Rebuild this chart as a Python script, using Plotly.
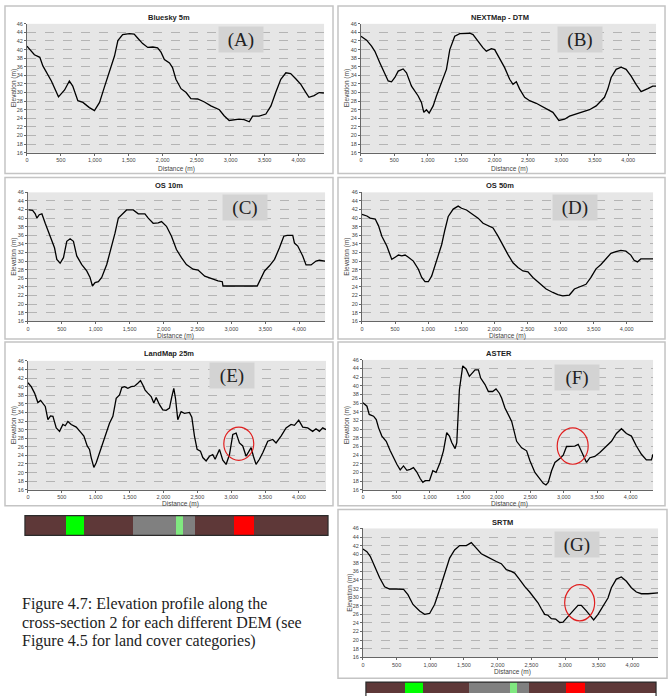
import plotly.graph_objects as go

W, H = 672, 696

# ---------------- data ----------------
names = ["Bluesky 5m", "NEXTMap - DTM", "OS 10m", "OS 50m", "LandMap 25m", "ASTER", "SRTM"]
letters = ["(A)", "(B)", "(C)", "(D)", "(E)", "(F)", "(G)"]

a_dist = [0,110,190,235,360,465,555,625,675,750,825,920,995,1070,1140,1215,1290,1340,1410,1510,1580,1630,1705,1780,1855,1925,1975,2025,2100,2145,2195,2270,2345,2415,2515,2615,2710,2835,2905,2980,3055,3125,3200,3275,3325,3420,3520,3595,3665,3740,3815,3885,3960,4035,4110,4155,4230,4305,4375]
a_elev = [40.8,38.8,38.2,36.2,32.7,29.0,30.6,32.7,31.5,28.1,27.7,26.5,25.8,27.7,31.2,35.0,38.5,42.1,43.5,43.7,43.6,42.7,41.4,40.5,40.6,40.4,39.4,37.7,36.9,35.8,33.1,30.9,30.0,28.6,28.5,27.8,26.9,26.0,24.6,23.5,23.7,23.8,23.7,23.2,24.5,24.5,25.0,26.9,30.0,33.1,34.6,34.4,33.2,31.9,30.0,28.9,29.3,30.0,29.9]

b_dist = [0,85,159,209,284,359,408,458,508,558,632,682,757,857,906,941,981,1021,1081,1130,1205,1280,1330,1404,1479,1554,1629,1678,1753,1828,1877,1952,2002,2077,2151,2226,2276,2326,2376,2450,2525,2624,2749,2873,2963,3048,3122,3222,3322,3421,3521,3596,3645,3695,3745,3820,3894,3969,4044,4118,4193,4293,4367,4417]
b_elev = [43.1,42.2,40.8,39.6,36.9,34.2,32.7,32.5,33.5,35.0,35.5,34.6,31.5,29.2,27.7,25.4,26.0,25.2,26.9,29.2,32.3,35.4,40.0,43.1,43.7,43.7,43.8,43.5,41.9,40.4,39.6,40.2,40.0,37.7,35.8,33.1,31.9,32.5,30.8,28.9,28.1,27.5,26.5,25.4,23.5,23.8,24.5,25.0,25.4,26.0,26.9,28.1,28.9,30.8,33.5,35.4,35.9,35.4,33.8,31.9,30.2,30.9,31.5,31.5]

c_dist = [10,69,108,132,167,206,255,328,392,426,475,524,573,622,671,720,794,867,916,951,990,1039,1088,1162,1235,1284,1333,1392,1455,1553,1627,1725,1774,1847,1921,1970,2043,2117,2190,2264,2337,2435,2509,2607,2705,2803,2866,2876,3381,3415,3489,3562,3636,3709,3773,3822,3905,3930,3979,4052,4101,4175,4248,4297,4346,4381]
c_elev = [41.9,41.8,41.0,40.0,40.8,41.0,38.8,35.8,33.1,30.4,29.5,30.8,34.6,35.2,34.6,31.2,29.2,27.7,26.2,24.2,25.0,25.2,26.2,29.2,33.5,36.5,40.0,41.0,41.9,41.9,41.0,41.0,40.0,38.8,38.9,39.2,38.1,35.8,32.7,30.8,29.2,28.1,27.9,26.5,25.9,25.4,25.2,24.2,24.2,25.2,27.7,28.9,30.4,33.1,35.8,36.0,36.0,34.2,33.5,31.2,29.1,29.1,30.0,30.2,30.0,30.0]

d_dist = [0,75,125,201,251,301,376,426,451,502,552,602,652,702,777,853,903,953,1003,1053,1128,1204,1254,1304,1379,1454,1505,1580,1680,1755,1830,1906,1981,2056,2131,2207,2282,2357,2432,2508,2583,2683,2783,2884,2959,3034,3134,3210,3310,3385,3460,3536,3611,3686,3761,3836,3912,3987,4062,4112,4162,4213,4313,4398]
d_elev = [40.9,40.5,40.0,39.8,38.2,35.8,33.5,31.2,30.4,30.9,31.4,31.2,31.4,30.9,30.0,28.1,26.2,25.2,25.2,26.5,30.0,33.8,37.3,40.4,42.1,42.8,42.3,41.9,40.8,40.0,38.8,38.3,37.7,35.8,33.5,31.5,29.6,28.5,27.7,27.5,26.2,24.9,23.5,22.7,22.2,21.9,22.1,23.5,24.1,24.6,26.2,28.2,29.2,30.5,31.8,32.2,32.5,32.3,31.4,30.2,29.8,30.5,30.5,30.5]

e_dist = [0,49,98,147,187,221,256,295,334,369,418,467,516,551,590,639,713,777,826,875,909,934,973,1008,1057,1106,1155,1204,1254,1303,1352,1386,1426,1475,1524,1573,1622,1662,1696,1730,1770,1819,1858,1893,1942,1991,2040,2089,2124,2153,2178,2212,2261,2311,2384,2419,2458,2497,2546,2581,2630,2679,2728,2763,2827,2876,2925,2975,3024,3073,3122,3171,3220,3254,3294,3328,3367,3417,3466,3540,3613,3662,3736,3810,3884,3933,3997,4056,4129,4203,4252,4302,4351,4400]
e_elev = [40.9,40.0,38.5,36.3,36.8,36.0,35.4,32.3,33.2,33.1,30.4,29.6,31.2,30.9,31.9,31.2,30.6,29.4,28.5,26.2,25.4,23.5,21.2,22.3,24.6,26.9,28.9,31.5,33.1,37.3,38.1,39.8,40.0,39.6,40.0,40.1,40.8,41.4,40.4,39.2,38.5,37.7,36.2,37.5,35.8,34.6,34.5,35.0,37.7,39.6,37.3,32.3,34.2,33.8,34.0,32.9,28.5,25.4,25.0,23.5,22.7,23.8,24.2,23.1,25.4,22.9,21.9,24.2,28.9,29.2,26.9,26.2,23.8,24.6,25.8,23.8,21.9,23.1,24.6,27.3,27.7,26.9,28.5,30.4,31.2,31.0,32.2,30.6,30.4,29.6,30.2,29.6,30.4,30.0]

f_dist = [0,60,94,159,199,234,283,348,408,457,507,557,606,656,706,755,805,855,895,929,994,1044,1093,1153,1203,1252,1292,1327,1377,1402,1441,1491,1541,1590,1625,1675,1725,1759,1824,1874,1938,1988,2038,2072,2122,2172,2222,2296,2371,2445,2495,2569,2644,2694,2734,2768,2818,2868,2942,2992,3042,3166,3216,3250,3290,3340,3390,3464,3539,3638,3713,3787,3862,3936,4011,4085,4160,4234,4309,4334]
f_elev = [36.1,35.3,33.4,33.0,32.2,30.3,28.4,27.2,25.0,23.4,21.9,20.6,21.5,20.5,20.7,21.1,20.1,18.6,17.7,18.1,18.1,20.4,20.0,22.3,25.0,29.2,28.4,26.9,25.5,26.9,39.1,44.6,43.9,42.2,42.9,43.7,43.7,41.8,40.3,38.7,38.7,39.3,38.3,37.2,34.9,33.4,31.8,27.2,25.7,25.0,22.7,20.0,18.4,17.5,17.1,17.7,20.4,22.3,23.2,24.0,26.0,26.1,26.5,25.3,23.8,22.3,23.4,23.7,24.6,26.1,27.2,29.0,30.1,29.0,28.4,26.1,24.2,22.9,22.9,24.2]

g_dist = [0,59,109,173,248,322,396,495,604,668,743,842,916,990,1064,1139,1213,1287,1361,1436,1535,1609,1683,1757,1832,1906,1980,2054,2129,2203,2252,2327,2401,2475,2549,2599,2648,2698,2747,2797,2861,2921,2970,3044,3119,3193,3242,3317,3376,3425,3490,3564,3638,3688,3762,3836,3911,3985,4059,4133,4232,4381]
g_elev = [41.2,40.6,39.5,37.2,34.5,32.4,31.9,31.9,31.8,30.6,28.3,26.8,26.0,26.2,28.3,31.8,35.2,39.1,41.0,42.0,42.0,42.7,41.4,40.1,39.5,38.8,38.3,37.8,36.4,36.0,35.6,34.1,32.5,31.2,29.8,28.7,27.3,26.0,25.8,25.0,24.9,24.1,24.2,25.6,26.8,28.1,28.1,26.8,25.6,24.7,26.0,27.9,29.8,32.2,34.2,34.7,33.7,32.2,31.2,30.8,30.8,31.0]

dists = [a_dist, b_dist, c_dist, d_dist, e_dist, f_dist, g_dist]
elevs = [a_elev, b_elev, c_elev, d_elev, e_elev, f_elev, g_elev]
x_max = [4377, 4417, 4381, 4398, 4400, 4334, 4381]

x_ticks = [0, 500, 1000, 1500, 2000, 2500, 3000, 3500, 4000]
y_ticks = list(range(16, 47, 2))

# land cover along the section (distance from, to, class)
lc_from = [0, 590, 862, 1566, 2191, 2292, 2468, 3027, 3318]
lc_to = [590, 862, 1566, 2191, 2292, 2468, 3027, 3318, 4400]
lc_class = ["brown", "green", "brown", "grey", "lightgreen", "grey", "brown", "red", "brown"]

# highlighted areas (panel index, x0, x1, y0, y1)
circle_panel = [4, 5, 6]
circle_x0 = [2891, 2902, 2995]
circle_x1 = [3333, 3365, 3440]
circle_y0 = [22.85, 21.9, 24.5]
circle_y1 = [30.6, 30.3, 32.9]

# ---------------- layout helpers ----------------
lc_colors = {"brown": "#5e3838", "green": "#00ff00", "grey": "#808080",
             "lightgreen": "#80e880", "red": "#ff0000"}

def dx(x0, x1):
    return [x0 / W, x1 / W]

def dy(y0, y1):
    return [1 - y1 / H, 1 - y0 / H]

def px(x):
    return x / W

def py(y):
    return 1 - y / H

plot_boxes = [(25, 323, 21, 151), (360, 656, 21, 151),
              (26, 324, 191, 321), (361, 653, 191, 321),
              (26, 325, 361, 491), (362, 653, 360, 491),
              (362, 658, 530, 660)]
panel_boxes = [(3, 332, 3, 172), (337, 665, 3, 172),
               (3, 332, 176, 339), (337, 665, 176, 339),
               (3, 332, 342, 507), (337, 665, 342, 507),
               (337, 667, 511, 681)]
title_pos = [(167, 15), (499, 15), (167, 184), (499, 184), (167, 354), (498, 354), (502, 524)]
xtitle_pos = [(175, 167), (509, 167), (174, 336), (507, 336), (179, 505), (509, 505), (512, 675)]
ytitle_pos = [(12, 86), (346, 86), (12, 256), (346, 256), (12, 426), (346, 426), (349, 595)]
label_pos = [(240, 37), (580, 37), (244, 206), (575, 206), (231, 376), (577, 378), (577, 546)]

fig = go.Figure()
layout = dict(width=W, height=H, margin=dict(l=0, r=0, t=0, b=0),
              paper_bgcolor="white", plot_bgcolor="#e6e6e6", showlegend=False,
              bargap=0, barmode="overlay")
shapes = []
annotations = []

for i in range(7):
    n = "" if i == 0 else str(i + 1)
    x0, x1, y0, y1 = plot_boxes[i]
    fig.add_trace(go.Scatter(x=dists[i], y=elevs[i], mode="lines",
                             line=dict(color="black", width=1.3),
                             xaxis="x" + n, yaxis="y" + n, name=names[i]))
    layout["xaxis" + n] = dict(domain=dx(x0, x1), anchor="y" + n, range=[0, x_max[i]],
                               tickvals=x_ticks, ticktext=[f"{v:,}" for v in x_ticks],
                               tickfont=dict(size=5.5, color="#444", family="Liberation Sans"),
                               showgrid=False, zeroline=False, showline=True,
                               linecolor="#666", linewidth=1, ticks="outside",
                               ticklen=2, tickcolor="#666")
    layout["yaxis" + n] = dict(domain=dy(y0, y1), anchor="x" + n, range=[16, 46],
                               tickvals=y_ticks,
                               tickfont=dict(size=5.5, color="#444", family="Liberation Sans"),
                               showgrid=True, gridcolor="#b4b4b4", griddash="dash",
                               gridwidth=1, zeroline=False, showline=True,
                               linecolor="#666", linewidth=1, ticks="outside",
                               ticklen=2, tickcolor="#666")
    bx0, bx1, by0, by1 = panel_boxes[i]
    shapes.append(dict(type="rect", xref="paper", yref="paper",
                       x0=px(bx0), x1=px(bx1), y0=py(by1), y1=py(by0),
                       line=dict(color="#c4c4c4", width=1.5), layer="below"))
    tx, ty = title_pos[i]
    annotations.append(dict(text="<b>" + names[i] + "</b>", x=px(tx), y=py(ty),
                            xref="paper", yref="paper", showarrow=False,
                            xanchor="center", yanchor="middle",
                            font=dict(size=7.5, color="#222", family="Liberation Sans")))
    tx, ty = xtitle_pos[i]
    annotations.append(dict(text="Distance (m)", x=px(tx), y=py(ty),
                            xref="paper", yref="paper", showarrow=False,
                            xanchor="center", yanchor="middle",
                            font=dict(size=6.5, color="#444", family="Liberation Sans")))
    tx, ty = ytitle_pos[i]
    annotations.append(dict(text="Elevation (m)", x=px(tx), y=py(ty), textangle=-90,
                            xref="paper", yref="paper", showarrow=False,
                            xanchor="center", yanchor="middle",
                            font=dict(size=6.5, color="#444", family="Liberation Sans")))
    tx, ty = label_pos[i]
    annotations.append(dict(text=letters[i], x=px(tx), y=py(ty),
                            xref="paper", yref="paper", showarrow=False,
                            xanchor="center", yanchor="middle",
                            width=44, height=25, bgcolor="#d3d3d3", borderpad=0,
                            font=dict(size=19, color="#222", family="Liberation Serif")))

for k in range(len(circle_panel)):
    n = str(circle_panel[k] + 1)
    shapes.append(dict(type="circle", xref="x" + n, yref="y" + n,
                       x0=circle_x0[k], x1=circle_x1[k], y0=circle_y0[k], y1=circle_y1[k],
                       line=dict(color="#e02020", width=1.2)))

# land cover bars
lc_bars = [(8, (23, 327, 517, 537)), (9, (365, 656, 685, 696))]
for idx, (x0, x1, y0, y1) in lc_bars:
    n = str(idx)
    fig.add_trace(go.Bar(y=["lc"] * len(lc_from),
                         x=[b - a for a, b in zip(lc_from, lc_to)],
                         base=lc_from, orientation="h",
                         marker=dict(color=[lc_colors[c] for c in lc_class], line=dict(width=0)),
                         xaxis="x" + n, yaxis="y" + n, hoverinfo="skip"))
    layout["xaxis" + n] = dict(domain=dx(x0, x1), anchor="y" + n, range=[0, 4400],
                               visible=False)
    layout["yaxis" + n] = dict(domain=dy(y0, y1), anchor="x" + n, range=[-0.5, 0.5],
                               visible=False)
    shapes.append(dict(type="rect", xref="paper", yref="paper",
                       x0=px(x0), x1=px(x1), y0=py(y1 if idx == 8 else y1 + 6), y1=py(y0),
                       line=dict(color="#2a2a2a", width=1.2)))

caption = ["Figure 4.7: Elevation profile along the",
           "cross-section 2 for each different DEM (see",
           "Figure 4.5 for land cover categories)"]
for j, line in enumerate(caption):
    annotations.append(dict(text=line, x=px(18), y=py(606 + 19 * j),
                            xref="paper", yref="paper", showarrow=False,
                            xanchor="left", yanchor="middle",
                            font=dict(size=16, color="#222", family="Liberation Serif")))

layout["shapes"] = shapes
layout["annotations"] = annotations
fig.update_layout(**layout)
fig.write_html("out.html")
